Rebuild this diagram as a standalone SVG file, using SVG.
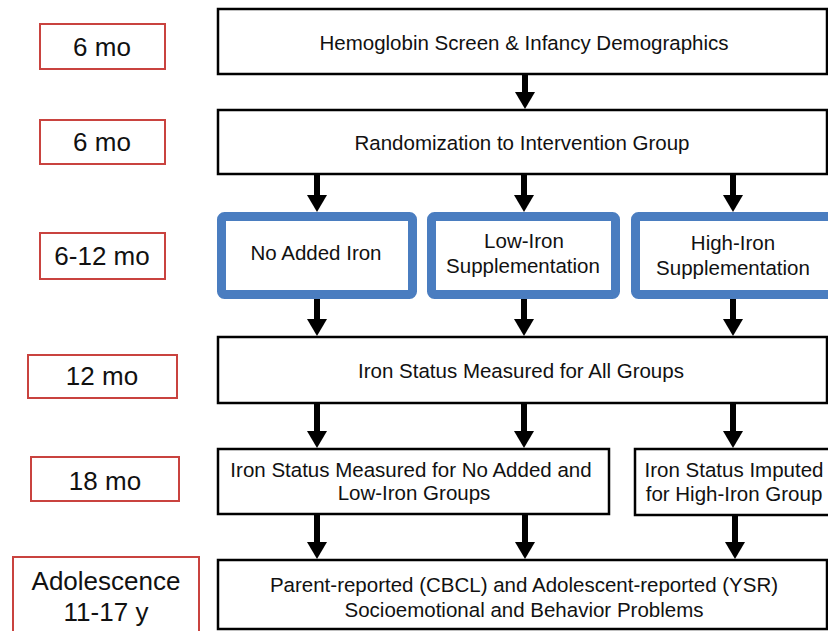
<svg xmlns="http://www.w3.org/2000/svg" width="828" height="631" viewBox="0 0 828 631">
<style>
text{font-family:"Liberation Sans",Arial,sans-serif;fill:#111;text-anchor:middle}
.lbl{fill:#fff;stroke:#c9433f;stroke-width:2}
.lt{font-size:26px}
.box{fill:#fff;stroke:#000;stroke-width:2.5}
.blue{fill:#fff;stroke:#4a7dc0;stroke-width:9}
.t{font-size:20.5px}
.arr{stroke:#000;stroke-width:6;fill:none;marker-end:url(#ah)}
</style>
<defs>
<marker id="ah" markerUnits="userSpaceOnUse" markerWidth="17" markerHeight="20" viewBox="0 0 17 20" refX="1" refY="10" orient="auto">
<path d="M0,0 L17,10 L0,20 z" fill="#000"/>
</marker>
</defs>
<rect width="828" height="631" fill="#fff"/>
<g id="labels">
<g id="l1"><rect class="lbl" x="40" y="24" width="125" height="45"/><text class="lt" x="102" y="56">6 mo</text></g>
<g id="l2"><rect class="lbl" x="40" y="120" width="125" height="44"/><text class="lt" x="102" y="151">6 mo</text></g>
<g id="l3"><rect class="lbl" x="40" y="233" width="125" height="46"/><text class="lt" x="102" y="265">6-12 mo</text></g>
<g id="l4"><rect class="lbl" x="28" y="355" width="149" height="43"/><text class="lt" x="102" y="385">12 mo</text></g>
<g id="l5"><rect class="lbl" x="31" y="457" width="148" height="44"/><text class="lt" x="105" y="490">18 mo</text></g>
<g id="l6"><rect class="lbl" x="13" y="557" width="186" height="90"/><text class="lt" x="106" y="590">Adolescence</text><text class="lt" x="106" y="621">11-17 y</text></g>
</g>
<g id="connectors">
<line class="arr" x1="525" y1="75" x2="525" y2="93"/>
<line class="arr" x1="317" y1="175" x2="317" y2="196"/>
<line class="arr" x1="524" y1="175" x2="524" y2="196"/>
<line class="arr" x1="733" y1="175" x2="733" y2="196"/>
<line class="arr" x1="317" y1="299" x2="317" y2="320"/>
<line class="arr" x1="524" y1="299" x2="524" y2="320"/>
<line class="arr" x1="733" y1="299" x2="733" y2="320"/>
<line class="arr" x1="317" y1="404" x2="317" y2="432"/>
<line class="arr" x1="524" y1="404" x2="524" y2="432"/>
<line class="arr" x1="733" y1="404" x2="733" y2="432"/>
<line class="arr" x1="317" y1="515" x2="317" y2="543"/>
<line class="arr" x1="525" y1="515" x2="525" y2="543"/>
<line class="arr" x1="735" y1="516" x2="735" y2="543"/>
</g>
<g id="hemo"><rect class="box" x="218" y="9" width="609" height="65"/><text class="t" x="524" y="50">Hemoglobin Screen &amp; Infancy Demographics</text></g>
<g id="rand"><rect class="box" x="218" y="110" width="609" height="64"/><text class="t" x="522" y="150">Randomization to Intervention Group</text></g>
<g id="noiron"><rect class="blue" x="221.5" y="216.5" width="191" height="78" rx="3"/><text class="t" x="316" y="260">No Added Iron</text></g>
<g id="lowiron"><rect class="blue" x="431.5" y="216.5" width="184" height="78" rx="3"/><text class="t" x="524" y="248">Low-Iron</text><text class="t" x="523" y="273">Supplementation</text></g>
<g id="highiron"><rect class="blue" x="635.5" y="216.5" width="200" height="78" rx="3"/><text class="t" x="733" y="250">High-Iron</text><text class="t" x="733" y="275">Supplementation</text></g>
<g id="status12"><rect class="box" x="218" y="337" width="609" height="66"/><text class="t" x="521" y="378">Iron Status Measured for All Groups</text></g>
<g id="status18a"><rect class="box" x="218" y="449" width="391" height="65"/><text class="t" x="411" y="477">Iron Status Measured for No Added and</text><text class="t" x="414" y="500">Low-Iron Groups</text></g>
<g id="status18b"><rect class="box" x="635" y="449" width="200" height="66"/><text class="t" x="734" y="477">Iron Status Imputed</text><text class="t" x="734" y="501">for High-Iron Group</text></g>
<g id="outcome"><rect class="box" x="218" y="560" width="609" height="69"/><text class="t" x="524" y="592">Parent-reported (CBCL) and Adolescent-reported (YSR)</text><text class="t" x="524" y="617">Socioemotional and Behavior Problems</text></g>
</svg>
